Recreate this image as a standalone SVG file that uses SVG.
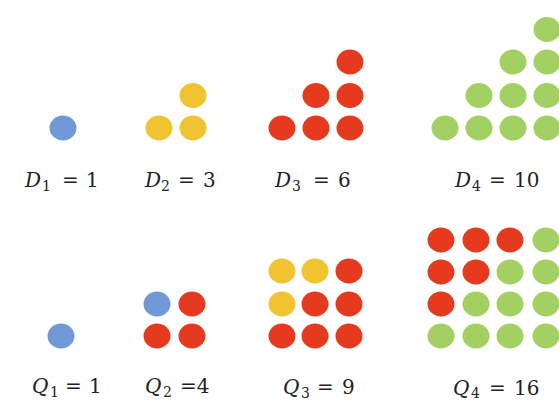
<svg xmlns="http://www.w3.org/2000/svg" width="559" height="402" viewBox="0 0 559 402">
<style>
.b{fill:#7099D6}.y{fill:#F0C330}.r{fill:#E63A1E}.g{fill:#A3D062}
text{font-family:"DejaVu Serif","Liberation Serif",serif;font-size:20px;fill:#222}
.v{font-style:italic}.s{font-size:14px}
</style>
<defs>
<ellipse id="d" rx="13.5" ry="12.5"/>
</defs>
<rect width="559" height="402" fill="#fff"/>
<g id="D1">
<use href="#d" class="b" x="63" y="128"/>
<text y="187"><tspan class="v" x="25">D</tspan><tspan class="s" x="42" dy="4">1</tspan><tspan x="62" dy="-4">=</tspan><tspan x="86">1</tspan></text>
</g>
<g id="D2">
<use href="#d" class="y" x="159" y="128"/><use href="#d" class="y" x="193" y="128"/><use href="#d" class="y" x="193" y="95.5"/>
<text y="187"><tspan class="v" x="145">D</tspan><tspan class="s" x="161" dy="4">2</tspan><tspan x="178" dy="-4">=</tspan><tspan x="203">3</tspan></text>
</g>
<g id="D3">
<use href="#d" class="r" x="282" y="128"/><use href="#d" class="r" x="316" y="128"/><use href="#d" class="r" x="350" y="128"/>
<use href="#d" class="r" x="316" y="95.5"/><use href="#d" class="r" x="350" y="95.5"/>
<use href="#d" class="r" x="350" y="62"/>
<text y="187"><tspan class="v" x="275">D</tspan><tspan class="s" x="292" dy="4">3</tspan><tspan x="313" dy="-4">=</tspan><tspan x="338">6</tspan></text>
</g>
<g id="D4">
<use href="#d" class="g" x="445" y="128"/><use href="#d" class="g" x="479" y="128"/><use href="#d" class="g" x="513" y="128"/><use href="#d" class="g" x="547" y="128"/>
<use href="#d" class="g" x="479" y="95.5"/><use href="#d" class="g" x="513" y="95.5"/><use href="#d" class="g" x="547" y="95.5"/>
<use href="#d" class="g" x="513" y="62"/><use href="#d" class="g" x="547" y="62"/>
<use href="#d" class="g" x="547" y="29.5"/>
<text y="187"><tspan class="v" x="455">D</tspan><tspan class="s" x="472" dy="4">4</tspan><tspan x="489" dy="-4">=</tspan><tspan x="514">10</tspan></text>
</g>
<g id="Q1">
<use href="#d" class="b" x="61" y="336"/>
<text y="393"><tspan class="v" x="32">Q</tspan><tspan class="s" x="50" dy="4">1</tspan><tspan x="65" dy="-4">=</tspan><tspan x="89">1</tspan></text>
</g>
<g id="Q2">
<use href="#d" class="b" x="157" y="304"/><use href="#d" class="r" x="192" y="304"/>
<use href="#d" class="r" x="157" y="336"/><use href="#d" class="r" x="192" y="336"/>
<text y="393"><tspan class="v" x="145">Q</tspan><tspan class="s" x="163" dy="4">2</tspan><tspan x="180" dy="-4">=4</tspan></text>
</g>
<g id="Q3">
<use href="#d" class="y" x="282" y="271"/><use href="#d" class="y" x="315" y="271"/><use href="#d" class="r" x="349" y="271"/>
<use href="#d" class="y" x="282" y="304"/><use href="#d" class="r" x="315" y="304"/><use href="#d" class="r" x="349" y="304"/>
<use href="#d" class="r" x="282" y="336"/><use href="#d" class="r" x="315" y="336"/><use href="#d" class="r" x="349" y="336"/>
<text y="394"><tspan class="v" x="283">Q</tspan><tspan class="s" x="301" dy="4">3</tspan><tspan x="317" dy="-4">=</tspan><tspan x="342">9</tspan></text>
</g>
<g id="Q4">
<use href="#d" class="r" x="441" y="240"/><use href="#d" class="r" x="476" y="240"/><use href="#d" class="r" x="510" y="240"/><use href="#d" class="g" x="546" y="240"/>
<use href="#d" class="r" x="441" y="272"/><use href="#d" class="r" x="476" y="272"/><use href="#d" class="g" x="510" y="272"/><use href="#d" class="g" x="546" y="272"/>
<use href="#d" class="r" x="441" y="304"/><use href="#d" class="g" x="476" y="304"/><use href="#d" class="g" x="510" y="304"/><use href="#d" class="g" x="546" y="304"/>
<use href="#d" class="g" x="441" y="336"/><use href="#d" class="g" x="476" y="336"/><use href="#d" class="g" x="510" y="336"/><use href="#d" class="g" x="546" y="336"/>
<text y="395"><tspan class="v" x="453">Q</tspan><tspan class="s" x="471" dy="3">4</tspan><tspan x="489" dy="-3">=</tspan><tspan x="514">16</tspan></text>
</g>
</svg>
